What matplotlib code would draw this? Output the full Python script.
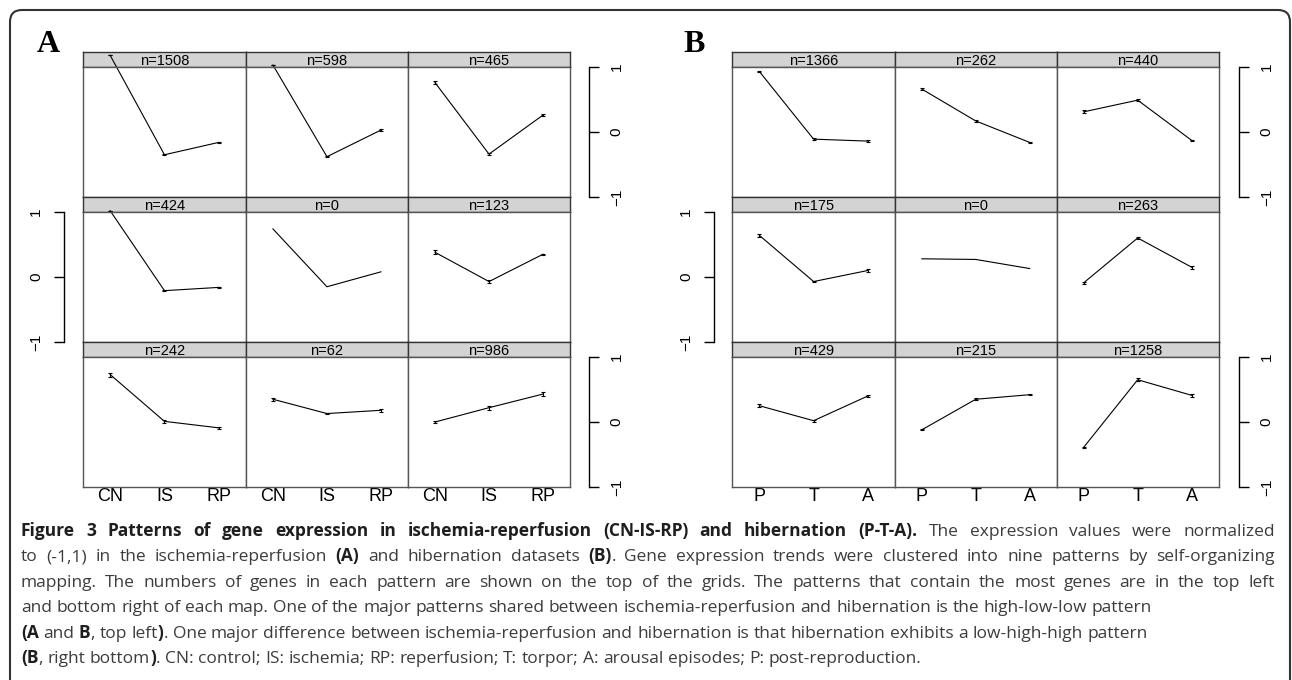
import numpy as np
import matplotlib.pyplot as plt
from matplotlib.patches import FancyBboxPatch
from matplotlib.transforms import IdentityTransform

# Som pattern means (panel order: row by row, left to right)
labels_a = ['CN', 'IS', 'RP']
counts_a = [1508, 598, 465, 424, 0, 123, 242, 62, 986]
means_a = [[1.18, -0.35, -0.16], [1.03, -0.38, 0.03], [0.76, -0.34, 0.26],
           [1.02, -0.21, -0.16], [0.74, -0.15, 0.08], [0.38, -0.07, 0.35],
           [0.73, 0.01, -0.09], [0.35, 0.13, 0.18], [0.00, 0.22, 0.43]]
err_a = [[0.00, 0.01, 0.01], [0.00, 0.01, 0.01], [0.02, 0.01, 0.02],
         [0.00, 0.01, 0.01], [0.00, 0.00, 0.00], [0.03, 0.02, 0.01],
         [0.03, 0.025, 0.01], [0.02, 0.01, 0.02], [0.01, 0.03, 0.035]]

labels_b = ['P', 'T', 'A']
counts_b = [1366, 262, 440, 175, 0, 263, 429, 215, 1258]
means_b = [[0.93, -0.11, -0.14], [0.66, 0.17, -0.16], [0.31, 0.49, -0.13],
           [0.64, -0.07, 0.10], [0.28, 0.27, 0.13], [-0.09, 0.60, 0.15],
           [0.25, 0.02, 0.40], [-0.12, 0.35, 0.42], [-0.39, 0.65, 0.41]]
err_b = [[0.01, 0.015, 0.02], [0.01, 0.01, 0.01], [0.025, 0.015, 0.01],
         [0.02, 0.01, 0.02], [0.00, 0.00, 0.00], [0.02, 0.01, 0.02],
         [0.025, 0.015, 0.015], [0.01, 0.015, 0.01], [0.01, 0.02, 0.025]]

# caption: (text, bold, space before); the first three lines are justified
caption = [
    [("Figure 3 Patterns of gene expression in ischemia-reperfusion (CN-IS-RP) and hibernation (P-T-A).", True, False),
     ("The expression values were normalized", False, True)],
    [("to (-1,1) in the ischemia-reperfusion", False, False), ("(A)", True, True),
     ("and hibernation datasets", False, True), ("(B)", True, True),
     (". Gene expression trends were clustered into nine patterns by self-organizing", False, False)],
    [("mapping. The numbers of genes in each pattern are shown on the top of the grids. "
      "The patterns that contain the most genes are in the top left", False, False)],
    [("and bottom right of each map. One of the major patterns shared between ischemia-reperfusion "
      "and hibernation is the high-low-low pattern", False, False)],
    [("(A", True, False), ("and", False, True), ("B", True, True), (", top left", False, False), (")", True, False),
     (". One major difference between ischemia-reperfusion and hibernation is that hibernation "
      "exhibits a low-high-high pattern", False, False)],
    [("(B", True, False), (", right bottom", False, False), (")", True, False),
     (". CN: control; IS: ischemia; RP: reperfusion; T: torpor; A: arousal episodes; P: post-reproduction.", False, False)],
]
justified = [True, True, True, False, False, False]

W, H = 1292, 680
fig = plt.figure(figsize=(W / 100, H / 100), dpi=100)
plt.rcParams['font.family'] = ['Liberation Sans', 'DejaVu Sans']


def box(x0, y0, x1, y1):
    # pixel box (origin top left) -> figure fraction
    return [x0 / W, 1 - y1 / H, (x1 - x0) / W, (y1 - y0) / H]


row_tops = [52, 197, 342]


def side_axis(x, top, side):
    if side == 'right':
        ax = fig.add_axes(box(x - 0.5, top + 15, x, top + 145))
    else:
        ax = fig.add_axes(box(x, top + 15, x + 0.5, top + 145))
    ax.set_ylim(-1, 1)
    ax.patch.set_visible(False)
    for s in ax.spines.values():
        s.set_visible(False)
    ax.spines[side].set_visible(True)
    ax.spines[side].set_linewidth(1)
    ax.set_xticks([])
    if side == 'right':
        ax.yaxis.tick_right()
    ax.set_yticks([-1, 0, 1])
    ax.set_yticklabels(['\u22121', '0', '1'], rotation=90, va='center', fontsize=11)
    ax.tick_params(axis='y', length=7, width=1, pad=8)


def draw_map(cols, labels, counts, means, errs, left_x, right_x, tag, tag_x):
    for i in range(9):
        r, c = divmod(i, 3)
        x0, x1 = cols[c], cols[c + 1]
        top = row_tops[r]
        strip = fig.add_axes(box(x0, top, x1, top + 15))
        strip.set_facecolor('#d3d3d3')
        strip.set_xticks([])
        strip.set_yticks([])
        for s in strip.spines.values():
            s.set_color('#333333')
            s.set_linewidth(1)
        strip.text(0.5, 0.42, f'n={counts[i]}', ha='center', va='center',
                   transform=strip.transAxes, fontsize=10.5)

        ax = fig.add_axes(box(x0, top + 15, x1, top + 145))
        ax.set_xlim(0.5, 3.5)
        ax.set_ylim(-1, 1)
        for s in ax.spines.values():
            s.set_color('#555555')
            s.set_linewidth(1)
        x = np.arange(1, 4)
        ax.plot(x, means[i], color='black', lw=0.8, clip_on=False)
        if counts[i] > 0:
            ax.errorbar(x, means[i], yerr=errs[i], fmt='none', ecolor='black',
                        elinewidth=0.8, capsize=1.5, capthick=0.8, clip_on=False)
        ax.set_yticks([])
        if r == 2:
            ax.set_xticks(x)
            ax.set_xticklabels(labels, fontsize=13)
            ax.tick_params(axis='x', length=0, pad=1)
        else:
            ax.set_xticks([])

    side_axis(right_x, row_tops[0], 'right')
    side_axis(left_x, row_tops[1], 'left')
    side_axis(right_x, row_tops[2], 'right')

    fig.text(tag_x / W, 1 - 52.5 / H, tag, ha='center', va='baseline',
             fontsize=23, fontweight='bold', family='Liberation Serif')


draw_map([83, 245.9, 408, 570], labels_a, counts_a, means_a, err_a, 64, 589, 'A', 48)
draw_map([732.3, 894.9, 1056.6, 1218.8], labels_b, counts_b, means_b, err_b, 714, 1239, 'B', 694)

# outer frame
frame = FancyBboxPatch((10, -20), 1280, 690, boxstyle='round,pad=0,rounding_size=12',
                       transform=IdentityTransform(), fill=False, ec='#333333', lw=1.5)
fig.add_artist(frame)

# caption, placed word by word so bold parts sit inline
renderer = fig.canvas.get_renderer()


def text_width(s, size, bold):
    t = fig.text(0, 0, s, fontsize=size, fontweight='bold' if bold else 'normal', family='Open Sans')
    w = t.get_window_extent(renderer).width
    t.remove()
    return w


def words_of(line):
    out = []
    for txt, bold, gap in line:
        for j, w in enumerate(txt.split(' ')):
            out.append((w, bold, gap if j == 0 else True))
    return out


def natural_width(line, size):
    words = words_of(line)
    sp = text_width('a a', size, False) - text_width('aa', size, False)
    return sum(text_width(w, size, b) for w, b, g in words) + sp * sum(1 for w, b, g in words if g)


base = 11
size = base * 899 / natural_width(caption[5], base)
space = text_width('a a', size, False) - text_width('aa', size, False)

x_left, x_right = 21, 1275
for k, line in enumerate(caption):
    y = 536 + k * 25.4
    words = words_of(line)
    widths = [text_width(w, size, b) for w, b, g in words]
    ngaps = sum(1 for w, b, g in words if g)
    gap = space
    if justified[k] and ngaps:
        gap = (x_right - x_left - sum(widths)) / ngaps
    x = x_left
    for (w, b, g), wd in zip(words, widths):
        if g:
            x += gap
        fig.text(x / W, 1 - y / H, w, fontsize=size, family='Open Sans', va='baseline',
                 fontweight='bold' if b else 'normal',
                 color='#1e1e1e' if b else '#3c3c3c')
        x += wd

fig.savefig('out.png', dpi=100)
